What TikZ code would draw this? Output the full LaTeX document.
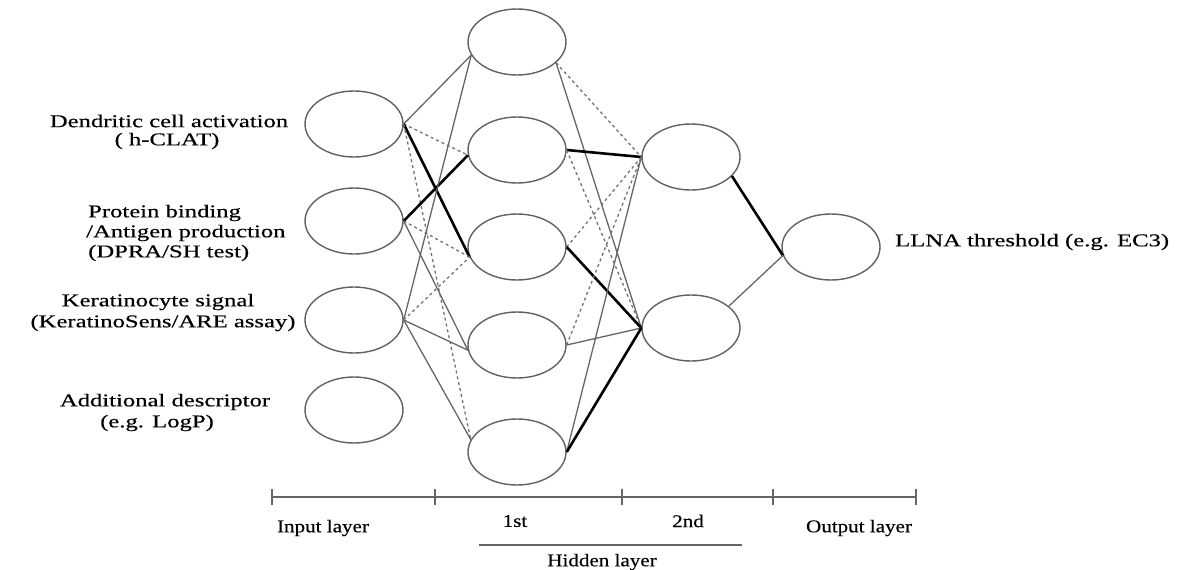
\documentclass[tikz,border=0pt]{standalone}
\usepackage{fontspec}
\setmainfont{Liberation Serif}[FakeStretch=1.17,FakeBold=0.4]
\newfontfamily\widefont{Liberation Serif}[FakeStretch=1.37,FakeBold=0.4]
\usetikzlibrary{shapes.geometric}
\begin{document}
\begin{tikzpicture}[x=1pt,y=-1pt,
  neuron/.style={ellipse,draw=black!62,line width=1.4pt,minimum width=98pt,minimum height=66pt,inner sep=0pt},
  conn/.style={draw=black!60,line width=1.3pt},
  dconn/.style={draw=black!55,line width=1.3pt,dash pattern=on 3pt off 3pt},
  tconn/.style={draw=black,line width=2.6pt},
  lbl/.style={font=\fontsize{18}{20}\selectfont,inner sep=0pt,anchor=center},
  wlbl/.style={font=\widefont\fontsize{18}{20}\selectfont,inner sep=0pt,anchor=center},
  axis/.style={draw=black!60,line width=1.4pt}]
\useasboundingbox (0,0) rectangle (1202,570);

% input layer
\node[neuron] (I1) at (354,124) {};
\node[neuron] (I2) at (354,221) {};
\node[neuron] (I3) at (354,320) {};
\node[neuron] (I4) at (354,410) {};
% hidden 1
\node[neuron] (H1) at (517,42) {};
\node[neuron] (H2) at (517,150) {};
\node[neuron] (H3) at (517,247) {};
\node[neuron] (H4) at (517,345) {};
\node[neuron] (H5) at (517,452) {};
% hidden 2
\node[neuron] (G1) at (691,157) {};
\node[neuron] (G2) at (691,328) {};
% output
\node[neuron] (O) at (831,247) {};

% input -> hidden 1
\draw[conn]  (I1.east) -- (H1.196);
\draw[dconn] (I1.east) -- (H2.186);
\draw[tconn] (I1.east) -- (H3.192);
\draw[dconn] (I1.east) -- (H5.165);
\draw[tconn] (I2.east) -- (H2.186);
\draw[dconn] (I2.east) -- (H3.192);
\draw[conn]  (I2.east) -- (H4.186);
\draw[conn]  (I3.east) -- (H1.196);
\draw[dconn] (I3.east) -- (H3.192);
\draw[conn]  (I3.east) -- (H4.186);
\draw[conn]  (I3.east) -- (H5.165);

% hidden 1 -> hidden 2
\draw[dconn] (H1.-28) -- (G1.west);
\draw[conn]  (H1.-28) -- (G2.west);
\draw[tconn] (H2.east) -- (G1.west);
\draw[dconn] (H2.east) -- (G2.west);
\draw[dconn] (H3.east) -- (G1.west);
\draw[tconn] (H3.east) -- (G2.west);
\draw[dconn] (H4.east) -- (G1.west);
\draw[conn]  (H4.east) -- (G2.west);
\draw[conn]  (H5.east) -- (G1.west);
\draw[tconn] (H5.east) -- (G2.west);

% hidden 2 -> output
\draw[tconn] (G1.-25) -- (O.190);
\draw[conn]  (G2.30) -- (O.190);

% labels
\node[wlbl] (l1a) at (169,121) {Dendritic cell activation};
\node[wlbl] (l1b) at (167,141) {( h-CLAT)};
\node[wlbl,anchor=west] (l2a) at (88,213) {Protein binding};
\node[wlbl,anchor=west] (l2b) at (86,233) {/Antigen production};
\node[wlbl,anchor=west] (l2c) at (88,253) {(DPRA/SH test)};
\node[wlbl] (l3a) at (158,302) {Keratinocyte signal};
\node[wlbl] (l3b) at (163,323) {(KeratinoSens/ARE assay)};
\node[wlbl] (l4a) at (165,402) {Additional descriptor};
\node[wlbl] (l4b) at (157,423) {(e.g. LogP)};
\node[wlbl,anchor=west] (lo) at (895,242) {LLNA threshold (e.g. EC3)};

% axis
\coordinate (t1) at (272,497);
\coordinate (t2) at (435,497);
\coordinate (t3) at (622,497);
\coordinate (t4) at (773,497);
\coordinate (t5) at (916,497);
\draw[axis] (t1) -- (t5);
\foreach \t in {t1,t2,t3,t4,t5} \draw[axis] ([yshift=-8pt]\t) -- ([yshift=8pt]\t);
\node[lbl] (inl) at (323,528) {Input layer};
\node[lbl] (h1l) at (515,521) {1st};
\node[lbl] (h2l) at (688,521) {2nd};
\coordinate (u1) at (479,545);
\coordinate (u2) at (742,545);
\draw[axis] (u1) -- (u2);
\node[lbl] (hl) at (602,562) {Hidden layer};
\node[lbl] (outl) at (859,528) {Output layer};
\end{tikzpicture}
\end{document}
